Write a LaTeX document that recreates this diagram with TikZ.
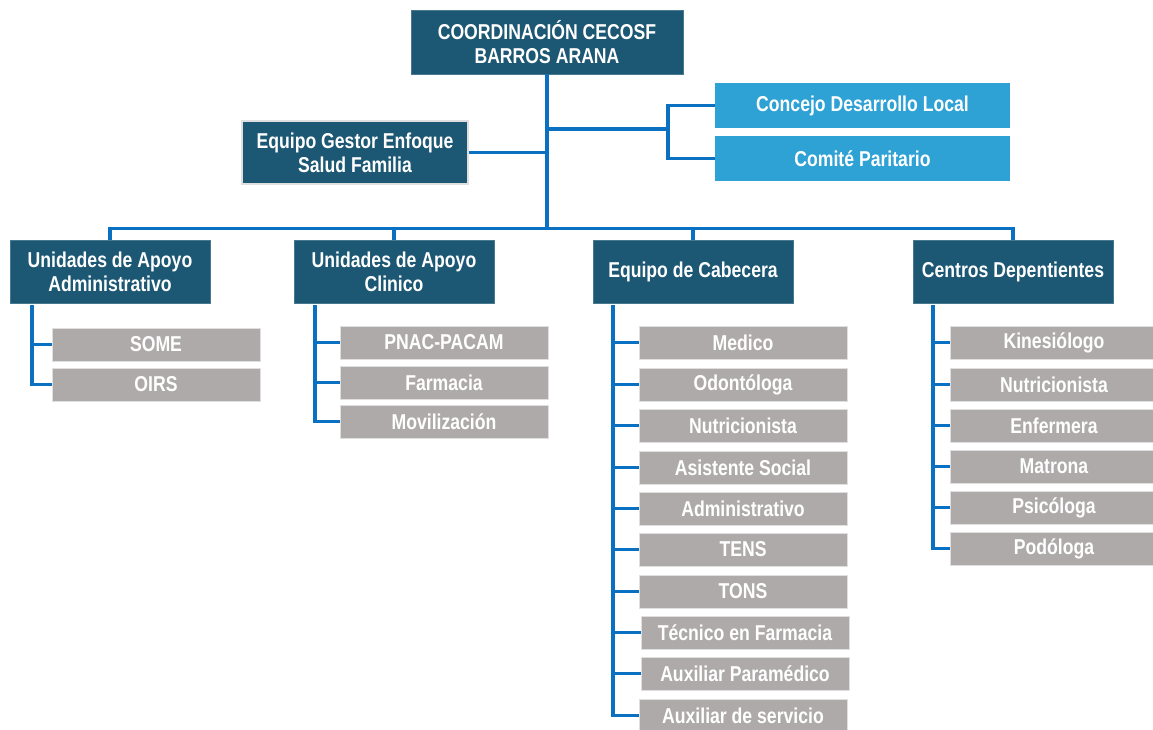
\documentclass[tikz,border=0pt]{standalone}
\usepackage{fontspec}
\setmainfont{Liberation Sans}[FakeStretch=0.82]
\usepackage{tikz}
\definecolor{headblue}{HTML}{1C5774}
\definecolor{skyblue}{HTML}{2EA1D5}
\definecolor{boxgray}{HTML}{AEAAAA}
\definecolor{linkblue}{HTML}{0A70C2}

\begin{document}
\begin{tikzpicture}[x=1pt,y=-1pt]
\tikzset{head/.style = {fill=headblue,draw=headblue!80!white,line width=0.8pt,text=white,font=\fontsize{21.5}{24}\selectfont\bfseries,align=center,inner sep=0pt}}
\tikzset{side/.style = {fill=skyblue,text=white,font=\fontsize{21.5}{24}\selectfont\bfseries,inner sep=0pt,minimum width=295,minimum height=45}}
\tikzset{item/.style = {fill=boxgray,draw=gray!25,line width=0.8pt,text=white,font=\fontsize{21.5}{24}\selectfont\bfseries,inner sep=0pt,minimum width=208,minimum height=33}}
\tikzset{link/.style = {draw=linkblue,line width=3.2pt}}
\useasboundingbox (0,0) rectangle (1153,730);
% top level
\node[head,minimum width=272,minimum height=64](coord) at (547,42) {COORDINACIÓN CECOSF\\BARROS ARANA};
\node[head,draw=gray!25,line width=2pt,minimum width=226,minimum height=63](gestor) at (355,152.5) {Equipo Gestor Enfoque\\Salud Familia};
\node[side](concejo) at (862.5,105.5) {Concejo Desarrollo Local};
\node[side](comite) at (862.5,158.5) {Comité Paritario};
% second level
\node[head,minimum width=200,minimum height=63](adm) at (110,271.5) {Unidades de Apoyo\\Administrativo};
\node[head,minimum width=200,minimum height=63](cli) at (394,271.5) {Unidades de Apoyo\\Clinico};
\node[head,minimum width=200,minimum height=63](cab) at (693,271.5) {Equipo de Cabecera};
\node[head,minimum width=200,minimum height=63](ctr) at (1013,271.5) {Centros Depentientes};
% administrativo
\node[item](some) at (156,344.5) {SOME};
\node[item](oirs) at (156,384.5) {OIRS};
% clinico
\node[item](pnac) at (444,342.5) {PNAC-PACAM};
\node[item](farm) at (444,382.5) {Farmacia};
\node[item](movi) at (444,421.5) {Movilización};
% cabecera
\node[item](med) at (743,342.5) {Medico};
\node[item](odo) at (743,384.5) {Odontóloga};
\node[item](nut) at (743,425.5) {Nutricionista};
\node[item](asi) at (743,467.5) {Asistente Social};
\node[item](adt) at (743,508.5) {Administrativo};
\node[item](tens) at (743,549.5) {TENS};
\node[item](tons) at (743,591.5) {TONS};
\node[item](tec) at (745,632.5) {Técnico en Farmacia};
\node[item](aux) at (745,673.5) {Auxiliar Paramédico};
\node[item](ser) at (743,715.5) {Auxiliar de servicio};
% centros
\node[item](kin) at (1054,342.5) {Kinesiólogo};
\node[item](cnut) at (1054,384.5) {Nutricionista};
\node[item](enf) at (1054,425.5) {Enfermera};
\node[item](mat) at (1054,466.5) {Matrona};
\node[item](psi) at (1054,507.5) {Psicóloga};
\node[item](pod) at (1054,548.5) {Podóloga};
% connectors
\coordinate (bar) at (547,230);
\coordinate (brk) at (668,129);
\draw[link] (coord.south) -- (bar);
\draw[link] (gestor.east) -- (gestor.east -| coord.south);
\draw[link] (brk -| coord.south) -- (brk);
\draw[link] (concejo.west) -| (brk) |- (comite.west);
\draw[link] (adm.north) -- ++(0,-11) -| (ctr.north);
\draw[link] (cli.north) -- ++(0,-11);
\draw[link] (cab.north) -- ++(0,-11);
\coordinate (admspine) at (32,305);
\coordinate (clispine) at (315,305);
\coordinate (cabspine) at (613,305);
\coordinate (ctrspine) at (933,305);
\draw[link] (admspine) |- (some.west);
\draw[link] (admspine) |- (oirs.west);
\draw[link] (clispine) |- (pnac.west);
\draw[link] (clispine) |- (farm.west);
\draw[link] (clispine) |- (movi.west);
\draw[link] (cabspine) |- (med.west);
\draw[link] (cabspine) |- (odo.west);
\draw[link] (cabspine) |- (nut.west);
\draw[link] (cabspine) |- (asi.west);
\draw[link] (cabspine) |- (adt.west);
\draw[link] (cabspine) |- (tens.west);
\draw[link] (cabspine) |- (tons.west);
\draw[link] (cabspine) |- (tec.west);
\draw[link] (cabspine) |- (aux.west);
\draw[link] (cabspine) |- (ser.west);
\draw[link] (ctrspine) |- (kin.west);
\draw[link] (ctrspine) |- (cnut.west);
\draw[link] (ctrspine) |- (enf.west);
\draw[link] (ctrspine) |- (mat.west);
\draw[link] (ctrspine) |- (psi.west);
\draw[link] (ctrspine) |- (pod.west);
\end{tikzpicture}
\end{document}
